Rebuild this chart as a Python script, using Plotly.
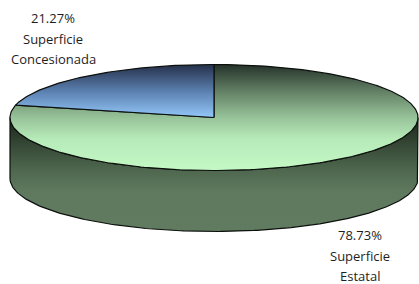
import numpy as np
import plotly.graph_objects as go

labels = ["Superficie Concesionada", "Superficie Estatal"]
values = [21.27, 78.73]

W, H = 419, 284
CX, CY = 214, 117.5
RX, RY = 204, 53
DEPTH = 61
START = 90.0  # degrees, counter-clockwise

def ell(t_deg, dy=0.0):
    t = np.radians(t_deg)
    return CX + RX * np.cos(t), CY - RY * np.sin(t) + dy

total = sum(values)
spans = [v / total * 360 for v in values]
a0 = START
a1 = START + spans[0]
a2 = a1 + spans[1]

fig = go.Figure()
EDGE = dict(color="#0c100c", width=1.2)

# side (front half)
t_front = np.linspace(180, 360, 200)
xs_top, ys_top = ell(t_front)
xs_bot, ys_bot = ell(t_front[::-1], DEPTH)
side_x = np.concatenate([xs_top, xs_bot, xs_top[:1]])
side_y = np.concatenate([ys_top, ys_bot, ys_top[:1]])
fig.add_trace(go.Scatter(
    x=side_x, y=side_y, mode="lines", fill="toself", line=EDGE,
    fillgradient=dict(type="vertical",
                      colorscale=[[0, "#617b61"], [0.35, "#5f795f"], [0.55, "#4d664d"],
                                  [0.8, "#314231"], [1, "#1a231a"]]),
    hoverinfo="skip", showlegend=False))

# green slice (top)
tg = np.linspace(a1, a2, 300)
gx, gy = ell(tg)
fig.add_trace(go.Scatter(
    x=np.concatenate([[CX], gx, [CX]]), y=np.concatenate([[CY], gy, [CY]]),
    mode="lines", fill="toself", line=EDGE,
    fillgradient=dict(type="vertical",
                      colorscale=[[0, "#c4f9c6"], [0.3, "#b6eab8"], [0.5, "#97c399"],
                                  [0.75, "#627f64"], [1, "#25322a"]]),
    hoverinfo="skip", showlegend=False))

# blue slice (top)
tb = np.linspace(a0, a1, 120)
bx, by = ell(tb)
fig.add_trace(go.Scatter(
    x=np.concatenate([[CX], bx, [CX]]), y=np.concatenate([[CY], by, [CY]]),
    mode="lines", fill="toself", line=EDGE,
    fillgradient=dict(type="vertical",
                      colorscale=[[0, "#93c7f9"], [0.5, "#5a7fae"], [1, "#25304a"]]),
    hoverinfo="skip", showlegend=False))

# labels, one annotation per line
lab_pos = [(53, 18), (360, 235)]
LINE = 20.5
for (lx, ly), lab, v in zip(lab_pos, labels, values):
    parts = [f"{v:.2f}%"] + lab.split(" ")
    for i, p in enumerate(parts):
        fig.add_annotation(x=lx, y=ly + i * LINE, xref="x", yref="y",
                           text=p, showarrow=False, align="center",
                           font=dict(family="Open Sans", size=13, color="#1e1e1e"))

fig.update_layout(
    width=W, height=H, margin=dict(l=0, r=0, t=0, b=0),
    paper_bgcolor="white", plot_bgcolor="white",
    xaxis=dict(range=[0, W], visible=False, fixedrange=True),
    yaxis=dict(range=[H, 0], visible=False, fixedrange=True),
)
fig.write_html("out.html", config={"displayModeBar": False},
               post_script="document.body.style.margin='0';document.body.style.overflow='hidden';")
